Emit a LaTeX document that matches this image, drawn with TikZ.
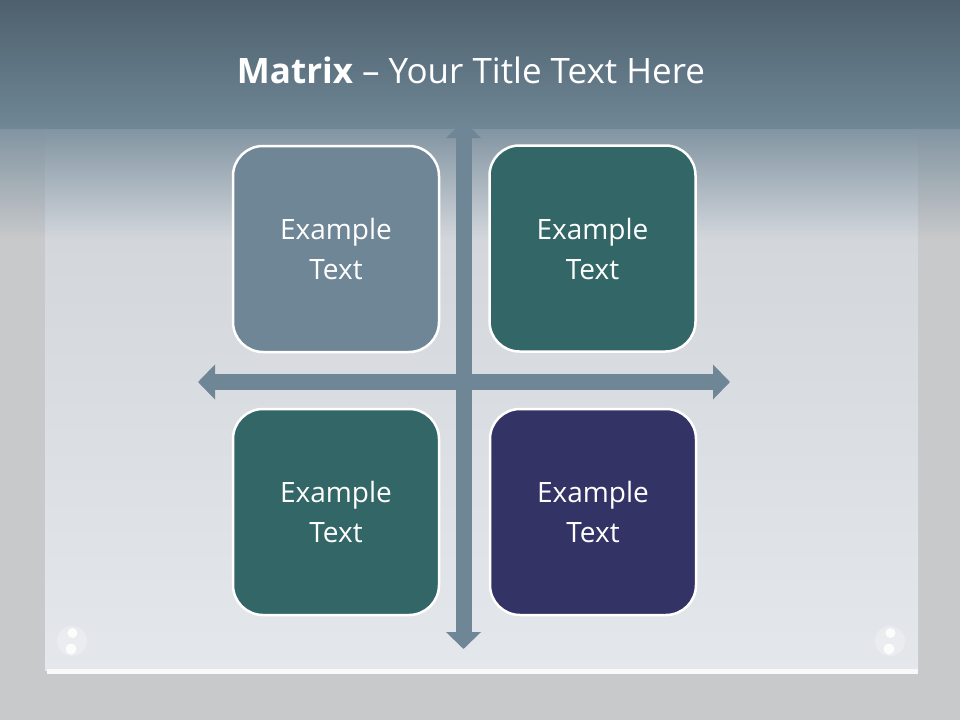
\documentclass[tikz,border=0pt]{standalone}
\usepackage{fontspec}
\setmainfont{Open Sans}
\usetikzlibrary{arrows.meta,calc}
\definecolor{bandtop}{HTML}{4E606D}
\definecolor{bandbot}{HTML}{6F8796}
\definecolor{fadec}{HTML}{8194A1}
\definecolor{outer}{HTML}{C8C9CB}
\definecolor{panelB}{HTML}{D3D7DC}
\definecolor{panelC}{HTML}{E4E7EB}
\definecolor{slate}{HTML}{6E8696}
\definecolor{teal}{HTML}{336666}
\definecolor{navy}{HTML}{333366}
\definecolor{arrowc}{HTML}{6E8696}
\tikzset{
  quad/.style={draw=white, line width=2.5pt, rounded corners=30pt, minimum width=206pt, minimum height=206pt, text=white, align=center, font=\fontsize{28}{40}\selectfont, inner sep=0pt},
  bigarrow/.style={draw=arrowc, -{Triangle[length=17pt,width=34pt]}, line width=16pt, shorten >=-1pt}
}
\begin{document}
\begin{tikzpicture}[x=1pt,y=-1pt]
\useasboundingbox (0,0) rectangle (960,720);
\fill[outer] (0,0) rectangle (960,720);
\shade[top color=fadec, bottom color=outer] (0,128) rectangle (45,240);
\shade[top color=fadec, bottom color=outer] (918,128) rectangle (960,240);
\shade[top color=fadec, bottom color=panelB] (45,128) rectangle (918,240);
\shade[top color=panelB, bottom color=panelC] (45,240) rectangle (918,670);
\shade[top color=bandtop, bottom color=bandbot] (0,0) rectangle (960,128);
\fill[white!95!gray] (47,669) rectangle (918,674);
% screws
\foreach \sx/\name in {72/sl,890/sr}{
  \coordinate (\name) at (\sx,641);
  \fill[white, opacity=0.25] (\name) circle (15pt);
  \fill[white, opacity=0.85] ($(\name)+(0.5,-8)$) circle (5pt);
  \fill[white, opacity=0.85] ($(\name)+(-1,8)$) circle (5.5pt);
}
\node[font=\fontsize{35}{40}\selectfont, text=white] (title) at (471,70) {\textbf{Matrix} – Your Title Text Here};
% arrows
\coordinate (vt) at (463.5,122);
\coordinate (vb) at (463.5,648);
\coordinate (hl) at (199,382);
\coordinate (hr) at (729,382);
\coordinate (c) at (463.5,382);
\draw[bigarrow] (c) -- (vt);
\draw[bigarrow] (c) -- (vb);
\draw[bigarrow] (c) -- (hl);
\draw[bigarrow] (c) -- (hr);
% boxes
\node[quad, fill=slate] (q1) at (336,249) {Example\\Text};
\node[quad, fill=teal] (q2) at (592.5,248.5) {Example\\Text};
\node[quad, fill=teal] (q3) at (336,512) {Example\\Text};
\node[quad, fill=navy] (q4) at (593,512) {Example\\Text};
\end{tikzpicture}
\end{document}
